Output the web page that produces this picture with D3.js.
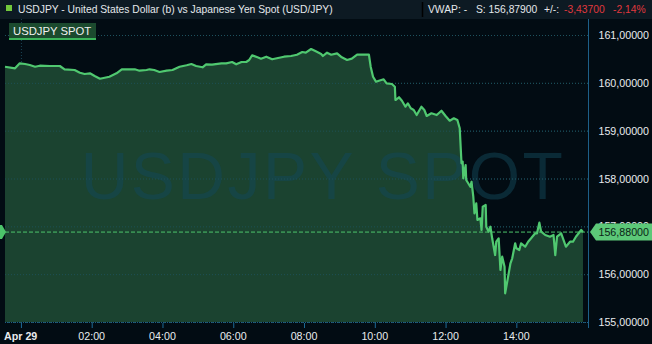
<!DOCTYPE html>
<html>
<head>
<meta charset="utf-8">
<script src="https://cdn.jsdelivr.net/npm/d3@7"></script>
<style>
  body { margin: 0; background: #020c13; }
  svg { display: block; font-family: "Liberation Sans", Arial, sans-serif; }
</style>
</head>
<body>
<div class="canvas"></div>
<script>
// minutes from Apr 29 00:00 (negative = Apr 28)
const minutes = [
  -27, -10, -2, 7, 15, 24, 32, 49, 66, 74, 91, 100, 108, 117, 125, 134, 150, 162, 171, 184,
  193, 201, 213, 218, 226, 235, 247, 257, 269, 281, 289, 297, 308, 314, 324, 340, 348, 358, 365, 374,
  382, 387, 392, 401, 407, 416, 426, 434, 446, 458, 468, 477, 483, 492, 500, 509, 512, 519, 526, 536,
  544, 553, 561, 570, 578, 590, 593, 597, 602, 607, 615, 620, 629, 634, 635, 641, 646, 652, 656, 661,
  666, 671, 679, 684, 688, 696, 705, 713, 720, 727, 734, 740, 744, 745, 747, 749, 750, 754, 755, 762,
  764, 767, 769, 772, 774, 779, 781, 783, 788, 789, 793, 796, 799, 804, 806, 810, 813, 816, 820, 821,
  826, 830, 833, 838, 840, 845, 848, 855, 860, 865, 872, 875, 879, 882, 889, 897, 903, 906, 909, 916,
  924, 931, 936, 941, 950, 953
];
const prices = [
  160.337, 160.304, 160.408, 160.394, 160.373, 160.337, 160.358, 160.352, 160.352, 160.283,
  160.268, 160.212, 160.185, 160.199, 160.143, 160.086, 160.128, 160.199, 160.283, 160.283,
  160.283, 160.254, 160.268, 160.283, 160.268, 160.226, 160.254, 160.268, 160.337, 160.367,
  160.394, 160.352, 160.325, 160.387, 160.379, 160.408, 160.408, 160.436, 160.387, 160.436,
  160.436, 160.477, 160.576, 160.534, 160.505, 160.546, 160.492, 160.513, 160.546, 160.561,
  160.588, 160.645, 160.630, 160.707, 160.659, 160.603, 160.561, 160.630, 160.588, 160.617,
  160.534, 160.477, 160.505, 160.588, 160.588, 160.588, 160.337, 160.128, 160.024, 160.045,
  160.074, 159.990, 159.976, 159.919, 159.641, 159.698, 159.626, 159.501, 159.572, 159.468,
  159.432, 159.327, 159.501, 159.432, 159.307, 159.363, 159.327, 159.417, 159.307, 159.208,
  159.258, 159.223, 159.049, 158.805, 158.318, 158.351, 158.004, 158.282, 157.968, 157.828,
  157.933, 157.619, 157.272, 157.481, 157.132, 157.168, 156.923, 157.410, 157.446, 156.992,
  156.888, 156.992, 156.750, 156.400, 156.679, 156.750, 156.087, 156.365, 156.156, 155.600,
  155.947, 156.227, 156.332, 156.645, 156.541, 156.505, 156.645, 156.574, 156.679, 156.750,
  156.854, 156.854, 157.076, 156.888, 156.819, 156.783, 156.819, 156.400, 156.783, 156.854,
  156.574, 156.679, 156.679, 156.783, 156.923, 156.880
];
const yTicks = [155, 156, 157, 158, 159, 160, 161];
const xTickHours = [0, 2, 4, 6, 8, 10, 12, 14];
const lastPrice = 156.88;
const title = "USDJPY - United States Dollar (b) vs Japanese Yen Spot (USD/JPY)";
const seriesName = "USDJPY SPOT";
const headerStats = ["VWAP: -", "S: 156,87900", "+/-:", "-3,43700", "-2,14%"];

const width = 652, height = 344;
const toDate = m => new Date(2024, 3, 29, 0, m);
const data = minutes.map((m, i) => ({ date: toDate(m), price: prices[i] }));
const fmt = v => d3.format(".5f")(v).replace(".", ",");
const fs = 10.3;

const svg = d3.select(".canvas")
    .append("svg")
    .attr("width", width)
    .attr("height", height);

svg.append("rect").attr("width", width).attr("height", height).attr("fill", "#020c13");

const plot = { left: 5, right: 583, axis: 588, top: 19, bottom: 322 };

const x = d3.scaleTime()
    .domain([toDate(-27), toDate(953)])
    .range([plot.left, plot.right]);
const y = d3.scaleLinear()
    .domain([155, 161])
    .range([322, 35]);

// header
svg.append("rect").attr("width", width).attr("height", plot.top).attr("fill", "#0d1a23");
svg.append("rect").attr("x", 6).attr("y", 5).attr("width", 6).attr("height", 6).attr("fill", "#72c83c");
svg.append("text").attr("x", 18).attr("y", 13).attr("fill", "#e4e8eb").attr("font-size", fs).text(title);
svg.append("line").attr("x1", 422.5).attr("x2", 422.5).attr("y1", 2).attr("y2", 17).attr("stroke", "#000").attr("stroke-width", 1.5);
const statX = [428, 476, 544, 564, 613];
svg.append("g").selectAll("text").data(headerStats).join("text")
    .attr("x", (d, i) => statX[i]).attr("y", 13)
    .attr("font-size", fs)
    .attr("fill", (d, i) => i >= 3 ? "#e0383e" : "#e4e8eb")
    .text(d => d);

// gridlines
svg.append("g").selectAll("line").data(yTicks).join("line")
    .attr("x1", plot.left).attr("x2", plot.axis)
    .attr("y1", d => y(d) + 0.5).attr("y2", d => y(d) + 0.5)
    .attr("stroke", "#1a4656").attr("stroke-dasharray", "1,2");
svg.append("line")
    .attr("x1", x(toDate(0)) + 0.5).attr("x2", x(toDate(0)) + 0.5)
    .attr("y1", plot.top).attr("y2", plot.bottom)
    .attr("stroke", "#1a4656").attr("stroke-dasharray", "1,2");

// area + line
const area = d3.area()
    .x(d => x(d.date))
    .y0(plot.bottom)
    .y1(d => y(d.price));
const line = d3.line()
    .x(d => x(d.date))
    .y(d => y(d.price));

svg.append("path").datum(data).attr("d", area).attr("fill", "#1b4330");

// watermark
svg.append("text")
    .attr("x", 323).attr("y", 199)
    .attr("text-anchor", "middle")
    .attr("font-size", 66)
    .attr("letter-spacing", 2.5)
    .attr("fill", "#13485a").attr("opacity", 0.5)
    .text(seriesName);

svg.append("g").selectAll("line").data(yTicks).join("line")
    .attr("x1", plot.left).attr("x2", plot.axis)
    .attr("y1", d => y(d) + 0.5).attr("y2", d => y(d) + 0.5)
    .attr("stroke", "#1f5560").attr("stroke-dasharray", "1,2").attr("opacity", 0.8);
svg.append("path").datum(data).attr("d", line)
    .attr("fill", "none").attr("stroke", "#50c870").attr("stroke-width", 2.2)
    .attr("stroke-linejoin", "round");

// last price line
const ly = y(lastPrice);
svg.append("line")
    .attr("x1", plot.left).attr("x2", plot.axis)
    .attr("y1", ly).attr("y2", ly)
    .attr("stroke", "#4cc46a").attr("stroke-dasharray", "4,2");
svg.append("path")
    .attr("d", `M0,${ly - 7}L2,${ly - 7}L6,${ly}L2,${ly + 7}L0,${ly + 7}Z`)
    .attr("fill", "#4cc46a");

// right axis
svg.append("line")
    .attr("x1", plot.axis + 0.5).attr("x2", plot.axis + 0.5)
    .attr("y1", plot.top).attr("y2", plot.bottom + 6)
    .attr("stroke", "#1d5f88");
svg.append("g").selectAll("text").data(yTicks).join("text")
    .attr("x", 649).attr("y", d => y(d) + 4)
    .attr("text-anchor", "end")
    .attr("font-size", fs + 0.4)
    .attr("fill", "#e8ebee")
    .text(fmt);
svg.append("path")
    .attr("d", `M590,${ly}L596,${ly - 8.5}L652,${ly - 8.5}L652,${ly + 8.5}L596,${ly + 8.5}Z`)
    .attr("fill", "#5cc878");
svg.append("text")
    .attr("x", 649).attr("y", ly + 4)
    .attr("text-anchor", "end").attr("font-size", fs + 0.4).attr("fill", "#0b2416")
    .text(fmt(lastPrice));

// bottom axis
svg.append("line")
    .attr("x1", plot.left).attr("x2", plot.axis)
    .attr("y1", plot.bottom + 0.5).attr("y2", plot.bottom + 0.5)
    .attr("stroke", "#1d5f88").attr("stroke-dasharray", "1,1");
const xTicks = xTickHours.map(h => toDate(h * 60));
svg.append("g").selectAll("line").data(xTicks).join("line")
    .attr("x1", d => x(d) + 0.5).attr("x2", d => x(d) + 0.5)
    .attr("y1", plot.bottom + 1).attr("y2", plot.bottom + 6)
    .attr("stroke", "#1d6a96");
svg.append("g").selectAll("text").data(xTicks).join("text")
    .attr("x", (d, i) => i === 0 ? 4 : x(d))
    .attr("y", 340)
    .attr("text-anchor", (d, i) => i === 0 ? "start" : "middle")
    .attr("font-size", fs + 0.4)
    .attr("font-weight", (d, i) => i === 0 ? "bold" : "normal")
    .attr("fill", "#e8ebee")
    .text((d, i) => i === 0 ? "Apr 29" : d3.timeFormat("%H:%M")(d));

// legend
svg.append("rect").attr("x", 9).attr("y", 23).attr("width", 87).attr("height", 17).attr("fill", "#1b4a2e");
svg.append("rect").attr("x", 9).attr("y", 38).attr("width", 87).attr("height", 2).attr("fill", "#3bb55a");
svg.append("text").attr("x", 13).attr("y", 35).attr("font-size", fs + 1).attr("fill", "#f0f0f0").text(seriesName);
</script>
</body>
</html>
